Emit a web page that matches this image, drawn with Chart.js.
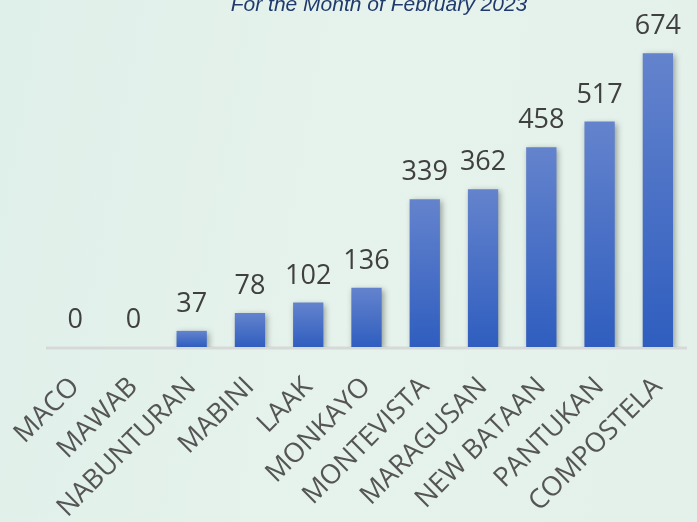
<!DOCTYPE html>
<html>
<head>
<meta charset="utf-8">
<script src="https://cdn.jsdelivr.net/npm/chart.js@4"></script>
<style>
html,body{margin:0;padding:0;overflow:hidden;}
body{width:697px;height:522px;background:linear-gradient(100deg,#dfefe9 0%,#e6f3ec 50%,#e3f1ea 100%);}
#wrap{position:relative;width:697px;height:522px;}
</style>
</head>
<body>
<div id="wrap"><canvas id="c" width="697" height="522"></canvas></div>
<script>
const titleText = "For the Month of February 2023";
const categories = ["MACO","MAWAB","NABUNTURAN","MABINI","LAAK","MONKAYO","MONTEVISTA","MARAGUSAN","NEW BATAAN","PANTUKAN","COMPOSTELA"];
const values = [0,0,37,78,102,136,339,362,458,517,674];

const labelFont = "'Open Sans', sans-serif";

const shadowPlugin = {
  id: 'shadow',
  beforeDatasetsDraw(chart){
    const ctx = chart.ctx;
    ctx.save();
    ctx.shadowColor = 'rgba(0,0,0,0.35)';
    ctx.shadowBlur = 6;
    ctx.shadowOffsetX = 2;
    ctx.shadowOffsetY = 2;
  },
  afterDatasetsDraw(chart){
    chart.ctx.restore();
    const ctx = chart.ctx;
    const meta = chart.getDatasetMeta(0);
    ctx.save();
    ctx.fillStyle = '#404040';
    ctx.font = "27px " + labelFont;
    ctx.textAlign = 'center';
    ctx.textBaseline = 'alphabetic';
    meta.data.forEach((bar, i) => {
      ctx.fillText(String(values[i]), bar.x, bar.y - 19);
    });
    ctx.restore();
  }
};

const titlePlugin = {
  id: 'toptitle',
  afterDraw(chart){
    const ctx = chart.ctx;
    ctx.save();
    ctx.fillStyle = '#213a6e';
    ctx.font = "italic 21px 'Liberation Sans', Arial, sans-serif";
    ctx.textAlign = 'center';
    ctx.textBaseline = 'alphabetic';
    ctx.fillText(titleText, 379, 11);
    ctx.restore();
  }
};

const axisLinePlugin = {
  id: 'axisline',
  beforeDatasetsDraw(chart){
    const ctx = chart.ctx, a = chart.chartArea;
    ctx.save();
    ctx.strokeStyle = '#d6d9d8';
    ctx.lineWidth = 3;
    ctx.beginPath();
    ctx.moveTo(a.left, a.bottom + 1);
    ctx.lineTo(a.right, a.bottom + 1);
    ctx.stroke();
    ctx.restore();
  }
};

new Chart(document.getElementById('c'), {
  type: 'bar',
  data: {
    labels: categories,
    datasets: [{
      data: values,
      barPercentage: 0.52,
      categoryPercentage: 1.0,
      borderWidth: 0,
      backgroundColor(context){
        const chart = context.chart;
        const a = chart.chartArea;
        if (!a) return '#3b66c4';
        const ys = chart.scales.y;
        const v = values[context.dataIndex] || 0;
        const top = ys.getPixelForValue(v);
        const bot = ys.getPixelForValue(0);
        const g = chart.ctx.createLinearGradient(0, top, 0, Math.max(bot, top + 1));
        g.addColorStop(0, '#6483cd');
        g.addColorStop(1, '#2f5ebf');
        return g;
      }
    }]
  },
  options: {
    responsive: false,
    animation: false,
    layout: { padding: { left: 46, right: 10, top: 20, bottom: 0 } },
    plugins: { legend: { display: false }, tooltip: { enabled: false }, title: { display: false } },
    scales: {
      y: { display: false, min: 0, max: 750 },
      x: {
        grid: { display: false, drawTicks: false },
        border: { display: false },
        ticks: {
          color: '#555555',
          font: { family: labelFont, size: 27 },
          minRotation: 45, maxRotation: 45,
          padding: 24,
          autoSkip: false
        },
        afterFit(scale){
          scale.height = 175;
          scale.paddingLeft = 0;
          scale.paddingRight = 0;
        }
      }
    }
  },
  plugins: [axisLinePlugin, shadowPlugin, titlePlugin]
});
</script>
</body>
</html>
